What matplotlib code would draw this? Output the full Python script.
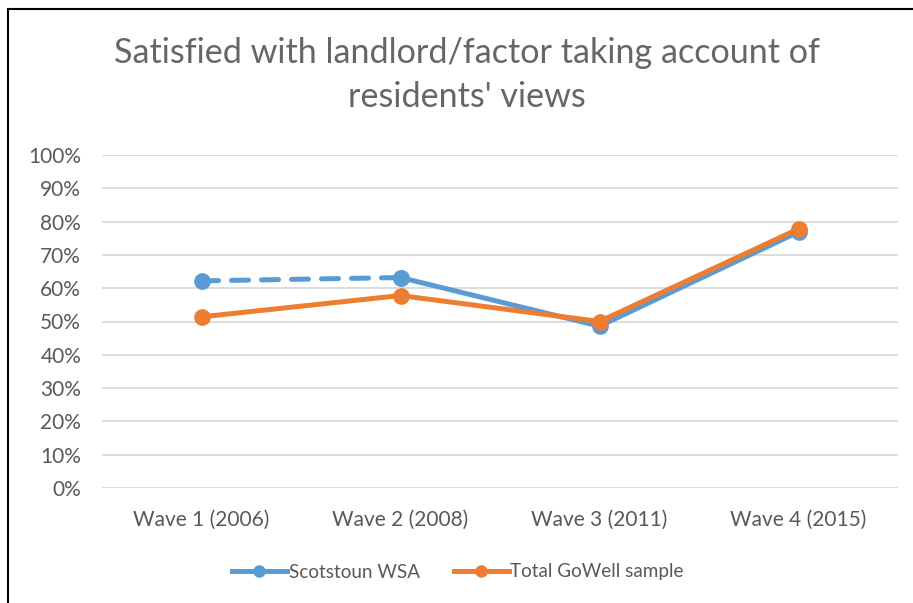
import matplotlib
matplotlib.use('Agg')
import matplotlib.pyplot as plt
from matplotlib.lines import Line2D

plt.rcParams['font.family'] = ['Lato', 'DejaVu Sans']

waves = ['Wave 1 (2006)', 'Wave 2 (2008)', 'Wave 3 (2011)', 'Wave 4 (2015)']
scotstoun = [62.2, 63.2, 48.6, 76.9]
gowell = [51.4, 57.8, 50.0, 77.8]

blue = '#5B9BD5'
orange = '#ED7D31'
grey = '#595959'

fig = plt.figure(figsize=(9.13, 6.03), dpi=100)
ax = fig.add_axes([102 / 913, 1 - 488 / 603, 796 / 913, 333 / 603])

x = list(range(len(waves)))
# blue first wave segment is dashed, rest solid
ax.plot(x[:2], scotstoun[:2], color=blue, lw=3.6, ls=(0, (3.4, 2.6)),
        marker='o', ms=11, zorder=3, dash_capstyle='round')
ax.plot(x[1:], scotstoun[1:], color=blue, lw=3.6, marker='o', ms=11, zorder=3)
ax.plot(x, gowell, color=orange, lw=3.6, marker='o', ms=11, zorder=4)

ax.set_xlim(-0.5, 3.5)
ax.set_ylim(0, 100)
ax.set_yticks(range(0, 101, 10))
ax.set_yticklabels([f'{v}%' for v in range(0, 101, 10)], color=grey, fontsize=15)
ax.set_xticks(x)
ax.set_xticklabels(waves, color=grey, fontsize=15)
ax.tick_params(axis='y', length=0, pad=15)
ax.tick_params(axis='x', length=0, pad=16)
ax.grid(axis='y', color='#D9D9D9', lw=1.3)
ax.set_axisbelow(True)
for s in ax.spines.values():
    s.set_visible(False)

fig.text(467 / 913, 1 - 75 / 603, "Satisfied with landlord/factor taking account of\nresidents' views",
         ha='center', va='center', fontsize=24.6, color='#666666', linespacing=1.45)

handles = [Line2D([], [], color=blue, lw=3.6, marker='o', ms=8),
           Line2D([], [], color=orange, lw=3.6, marker='o', ms=8)]
fig.legend(handles, ['Scotstoun WSA', 'Total GoWell sample'], loc='center',
           bbox_to_anchor=(458 / 913, 1 - 572 / 603), ncol=2, frameon=False,
           fontsize=13.6, labelcolor=grey, handlelength=2.9, handletextpad=0.1,
           columnspacing=1.8)

# outer frame: top and left edges
fig.add_artist(Line2D([7.5 / 913, 7.5 / 913], [0, 1 - 8.5 / 603], color='black', lw=1.5,
                      transform=fig.transFigure))
fig.add_artist(Line2D([7.5 / 913, 1], [1 - 8.5 / 603, 1 - 8.5 / 603], color='black', lw=1.5,
                      transform=fig.transFigure))

fig.savefig('out.png', dpi=100)
